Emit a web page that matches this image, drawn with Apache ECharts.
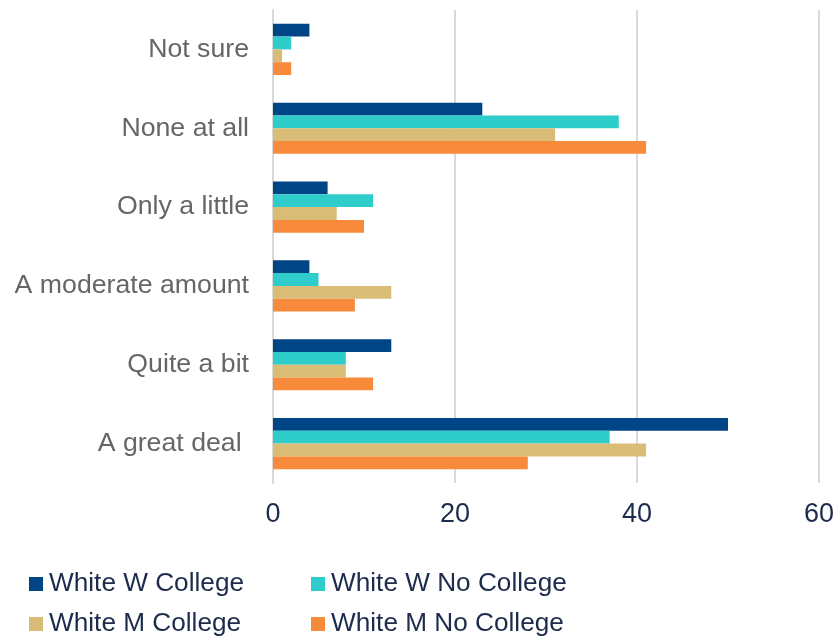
<!DOCTYPE html>
<html>
<head>
<meta charset="utf-8">
<script src="https://cdn.jsdelivr.net/npm/echarts@6/dist/echarts.min.js"></script>
<style>html,body{margin:0;padding:0;background:#fff}#c{width:837px;height:638px}</style>
</head>
<body>
<div id="c"></div>
<script>
const categories = ['Not sure', 'None at all', 'Only a little', 'A moderate amount', 'Quite a bit', 'A great deal '];
const seriesNames = ['White W College', 'White W No College', 'White M College', 'White M No College'];
const whiteWCollege = [4, 23, 6, 4, 13, 50];
const whiteWNoCollege = [2, 38, 11, 5, 8, 37];
const whiteMCollege = [1, 31, 7, 13, 8, 41];
const whiteMNoCollege = [2, 41, 10, 9, 11, 28];
const xTicks = [0, 20, 40, 60];

const colors = ['#004585', '#2ecdcc', '#d9bd76', '#f78b3b'];
const values = [whiteWCollege, whiteWNoCollege, whiteMCollege, whiteMNoCollege];
const font = 'Liberation Sans, Arial, sans-serif';
const fs = 26.7;

const chart = echarts.init(document.getElementById('c'), null, {renderer: 'canvas'});
const legendText = {color: '#1d2c4c', fontSize: 26.2, fontFamily: font, padding: [0, 0, 0, 1]};
const legendPos = [[29, 571], [311, 571], [29, 611], [311, 611]];
chart.setOption({
  animation: false,
  color: colors,
  grid: {left: 273, right: 18, top: 10, bottom: 155, containLabel: false},
  legend: seriesNames.map((n, i) => ({
    left: legendPos[i][0], top: legendPos[i][1], itemWidth: 14, itemHeight: 14, icon: 'rect',
    itemGap: 0, padding: 0, data: [n], textStyle: legendText
  })),
  xAxis: {
    type: 'value', min: xTicks[0], max: xTicks[xTicks.length - 1], interval: 20,
    axisLine: {show: false}, axisTick: {show: false},
    splitLine: {show: true, lineStyle: {color: '#d9d9d9', width: 2}},
    axisLabel: {color: '#1d2c4c', fontSize: 27, fontFamily: font, margin: 18}
  },
  yAxis: {
    type: 'category', data: categories, inverse: true,
    axisLine: {show: true, lineStyle: {color: '#d9d9d9', width: 2}},
    axisTick: {show: false},
    axisLabel: {color: '#666666', fontSize: fs, fontFamily: font, margin: 24}
  },
  series: seriesNames.map((n, i) => ({
    name: n, type: 'bar', data: values[i], barGap: '0%', barCategoryGap: '35%',
    itemStyle: {color: colors[i]}
  }))
});
</script>
</body>
</html>
